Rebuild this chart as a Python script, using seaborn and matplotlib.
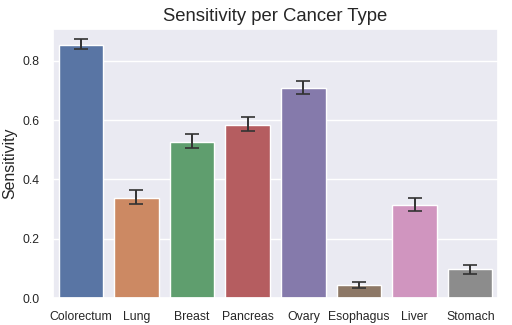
import numpy as np
import pandas as pd
import matplotlib
matplotlib.use("Agg")
import matplotlib.pyplot as plt
import seaborn as sns

cancer_types = ["Colorectum", "Lung", "Breast", "Pancreas", "Ovary", "Esophagus", "Liver", "Stomach"]
sensitivity = [0.855, 0.338, 0.527, 0.585, 0.710, 0.045, 0.314, 0.097]
ci_low = [0.839, 0.316, 0.505, 0.562, 0.690, 0.035, 0.292, 0.082]
ci_high = [0.873, 0.363, 0.552, 0.610, 0.732, 0.055, 0.336, 0.113]

sns.set_theme(style="darkgrid")
plt.rcParams["font.family"] = ["Liberation Sans", "DejaVu Sans"]
df = pd.DataFrame({"Cancer": cancer_types, "Sensitivity": sensitivity})

fig, ax = plt.subplots(figsize=(5.12, 3.25), dpi=100)
sns.barplot(data=df, x="Cancer", y="Sensitivity", hue="Cancer", palette="deep",
            legend=False, ax=ax, errorbar=None, width=0.8)
yerr = np.array([np.array(sensitivity) - np.array(ci_low), np.array(ci_high) - np.array(sensitivity)])
ax.errorbar(x=np.arange(len(cancer_types)), y=sensitivity, yerr=yerr, fmt="none",
            ecolor="#333333", elinewidth=1.4, capsize=4.7, capthick=1.2)
ax.set_xlim(-0.5, len(cancer_types) - 0.5)
ax.set_title("Sensitivity per Cancer Type", fontsize=13.3, color="#262626")
ax.set_ylabel("Sensitivity", fontsize=11.4, color="#262626")
ax.set_xlabel("")
ax.tick_params(axis="both", labelsize=8.8, colors="#262626")
ax.set_ylim(0, 0.908)
ax.set_yticks([0.0, 0.2, 0.4, 0.6, 0.8])
fig.subplots_adjust(left=0.1035, right=0.9727, top=0.911, bottom=0.083)
fig.savefig("out.png", dpi=100)
